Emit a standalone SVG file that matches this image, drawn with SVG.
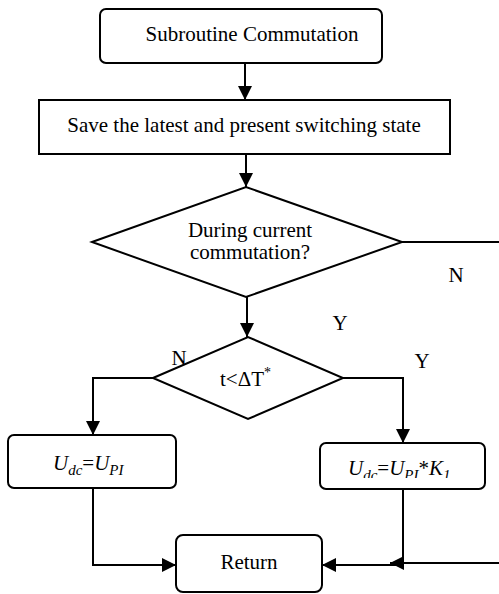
<svg xmlns="http://www.w3.org/2000/svg" width="499" height="594" viewBox="0 0 499 594">
<style>
text{font-family:"Liberation Serif","Times New Roman",serif;font-size:21px;fill:#000}
.sh{fill:#fff;stroke:#000;stroke-width:2}
.ln{fill:none;stroke:#000;stroke-width:2}
.it{font-style:italic}
</style>
<defs>
<marker id="ah" markerUnits="userSpaceOnUse" markerWidth="14" markerHeight="14" refX="14" refY="7" orient="auto">
<path d="M0,0 L14,7 L0,14 z" fill="#000"/>
</marker>
<clipPath id="clipR"><rect x="320" y="443" width="165" height="35"/></clipPath>
</defs>
<g id="connectors">
<path class="ln" d="M245,63 V100" marker-end="url(#ah)"/>
<path class="ln" d="M246,154 V187" marker-end="url(#ah)"/>
<path class="ln" d="M247,297 V337" marker-end="url(#ah)"/>
<path class="ln" d="M402,242 H499"/>
<path class="ln" d="M153,378 H93 V435" marker-end="url(#ah)"/>
<path class="ln" d="M343,378 H403 V443" marker-end="url(#ah)"/>
<path class="ln" d="M93,488 V565 H176" marker-end="url(#ah)"/>
<path class="ln" d="M403,489 V565 H322" marker-end="url(#ah)"/>
<path class="ln" d="M499,563 H390" marker-end="url(#ah)"/>
<text x="456" y="282" text-anchor="middle">N</text>
<text x="340" y="330" text-anchor="middle">Y</text>
<text x="179" y="365" text-anchor="middle">N</text>
<text x="422" y="368" text-anchor="middle">Y</text>
</g>
<g id="start">
<rect class="sh" x="100" y="9" width="282" height="54" rx="6"/>
<text x="252" y="41" text-anchor="middle">Subroutine Commutation</text>
</g>
<g id="save">
<rect class="sh" x="39" y="100" width="411" height="54"/>
<text x="244" y="132" text-anchor="middle">Save the latest and present switching state</text>
</g>
<g id="during">
<polygon class="sh" points="92,242 246,187 402,242 246,297"/>
<text x="250" y="237" text-anchor="middle">During current</text>
<text x="250" y="259" text-anchor="middle">commutation?</text>
</g>
<g id="tcheck">
<polygon class="sh" points="153,378 248,337 343,378 248,419"/>
<text x="220" y="386">t&lt;ΔT<tspan font-size="14" dy="-9">*</tspan></text>
</g>
<g id="udc1">
<rect class="sh" x="8" y="435" width="168" height="53" rx="6"/>
<text x="53" y="470" class="it">U<tspan font-size="15" dy="5">dc</tspan><tspan dy="-5" font-style="normal">=</tspan>U<tspan font-size="15" dy="5">PI</tspan></text>
</g>
<g id="udc2">
<rect class="sh" x="320" y="443" width="165" height="46" rx="6"/>
<text x="348" y="475" class="it" clip-path="url(#clipR)">U<tspan font-size="15" dy="5">dc</tspan><tspan dy="-5" font-style="normal">=</tspan>U<tspan font-size="15" dy="5">PI</tspan><tspan dy="-5" font-style="normal">*</tspan>K<tspan font-size="15" dy="5">1</tspan></text>
</g>
<g id="return">
<rect class="sh" x="176" y="535" width="146" height="57" rx="7"/>
<text x="249" y="569" text-anchor="middle" font-size="22">Return</text>
</g>
</svg>
